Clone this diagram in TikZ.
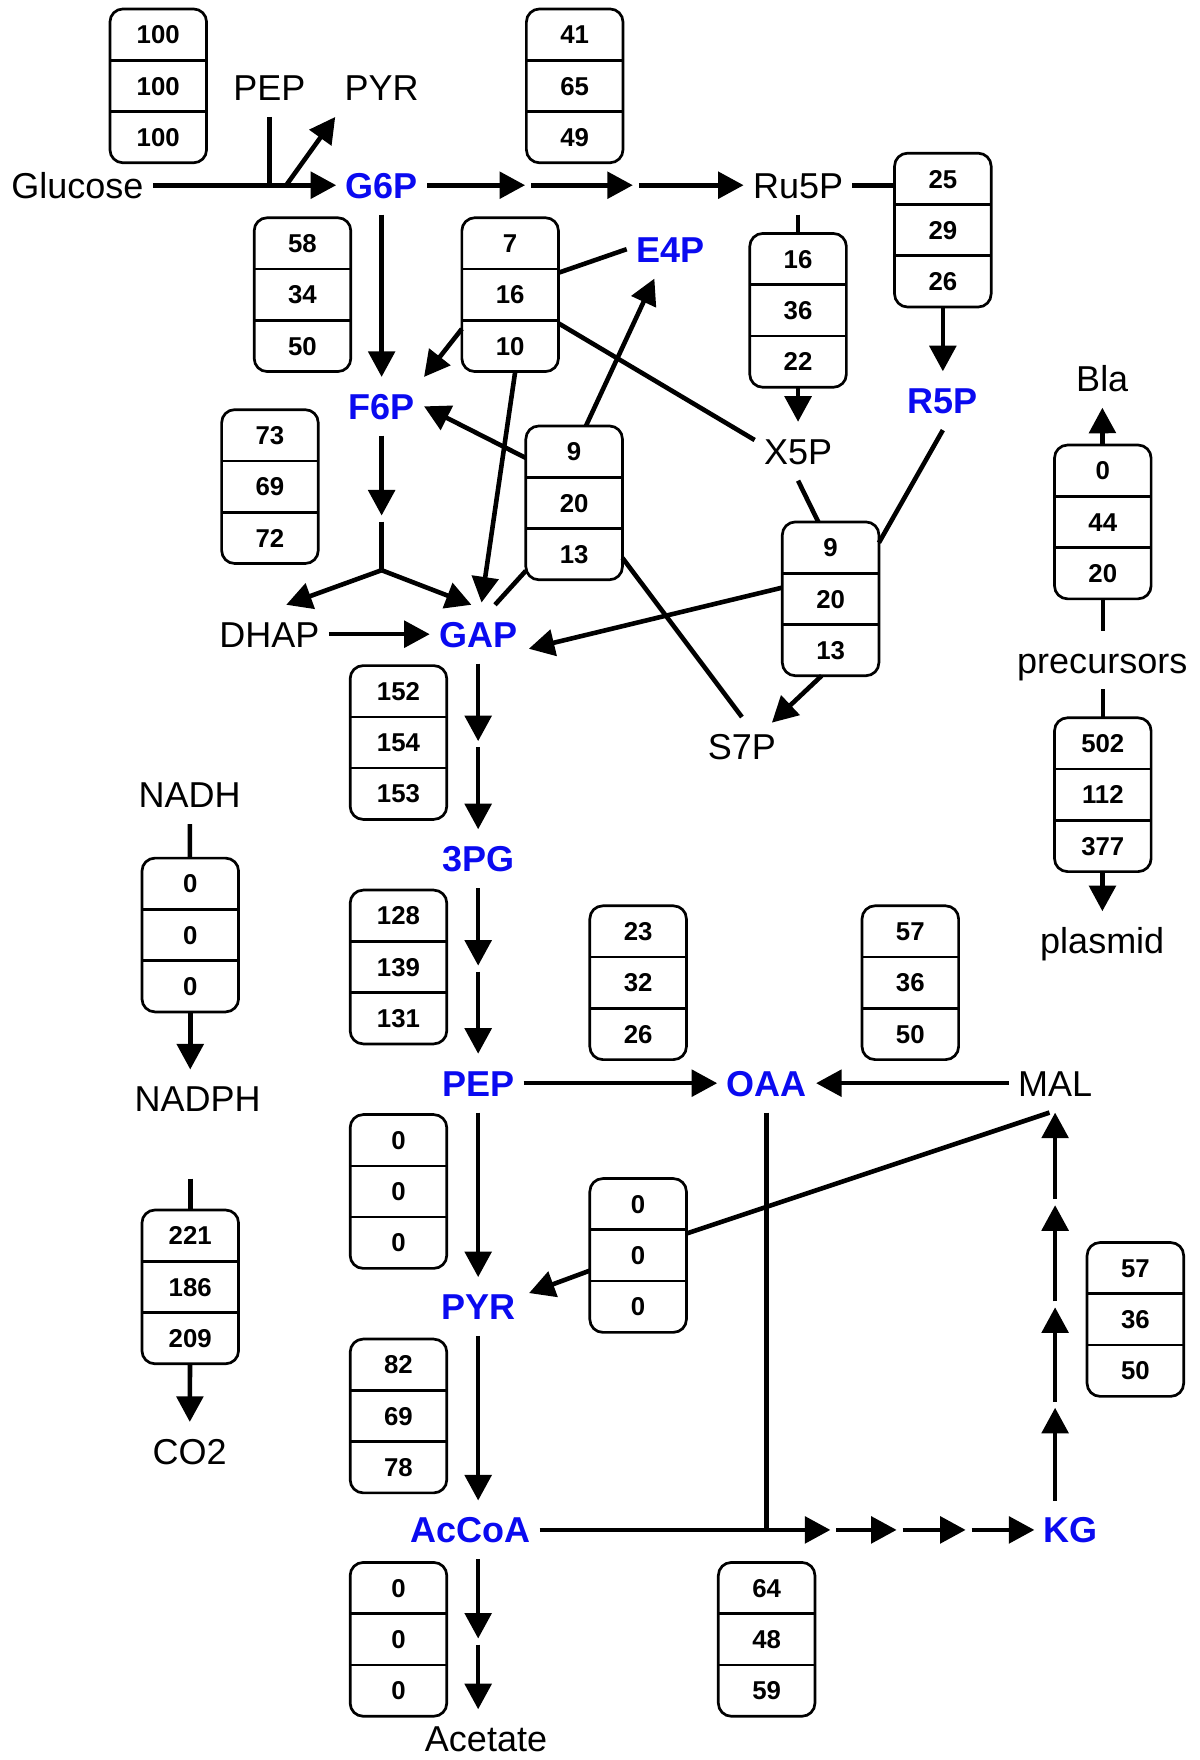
\documentclass[tikz,border=0pt]{standalone}
\usepackage{fontspec}
\setmainfont{Liberation Sans}
\usetikzlibrary{arrows.meta,calc}

\definecolor{metblue}{RGB}{10,10,240}

\tikzset{
  metab/.style={font=\fontsize{18}{20}\selectfont, text height=13pt, text depth=0pt,
                inner xsep=4.5pt, inner ysep=8pt},
  key/.style={metab, font=\fontsize{18}{20}\selectfont\bfseries, text=metblue},
  fbox/.style={draw, line width=1.35pt, rounded corners=6.5pt, minimum width=48.3pt,
               minimum height=76.9pt, inner sep=0pt, outer sep=0pt},
  fsep/.style={line width=1.35pt},
  fnum/.style={font=\fontsize{12.9}{14}\selectfont\bfseries, inner sep=0pt,
               text height=9.2pt, text depth=0pt},
  link/.style={line width=2.3pt},
  rxn/.style={line width=2.3pt, -{Triangle[length=12.8pt,width=13.2pt]}},
}

% flux box: name, position, three values
\newcommand{\fluxbox}[5]{%
  \node[fbox] (#1) at (#2) {};
  \draw[fsep] ($(#1.west)+(0,-22.83)$) -- ($(#1.east)+(0,-22.83)$);
  \draw[fsep] ($(#1.west)+(0,22.83)$) -- ($(#1.east)+(0,22.83)$);
  \node[fnum] at ($(#1.center)+(0,-45.67)$) {#3};
  \node[fnum] at (#1.center) {#4};
  \node[fnum] at ($(#1.center)+(0,45.67)$) {#5};
}

\begin{document}
\begin{tikzpicture}[x=0.5612pt, y=-0.5612pt]
\useasboundingbox (0,0) rectangle (1069,1568);

% metabolites
\node[metab] (Glucose) at (69,165) {Glucose};
\node[metab] (pepT) at (240,78) {PEP};
\node[metab] (pyrT) at (340,78) {PYR};
\node[key] (G6P) at (340,165) {G6P};
\node[metab] (Ru5P) at (711,165) {Ru5P};
\node[key] (E4P) at (597,222) {E4P};
\node[key] (F6P) at (340,362) {F6P};
\node[key] (R5P) at (840,357) {R5P};
\node[metab] (X5P) at (711,402) {X5P};
\node[metab] (Bla) at (982,337) {Bla};
\node[metab] (DHAP) at (240,565) {DHAP};
\node[key] (GAP) at (426,565) {GAP};
\node[metab] (S7P) at (661,665) {S7P};
\node[metab] (prec) at (982,588) {precursors};
\node[metab] (NADH) at (169,708) {NADH};
\node[key] (PG3) at (426,765) {3PG};
\node[metab] (plasmid) at (982,838) {plasmid};
\node[key] (PEP) at (426,965) {PEP};
\node[key] (OAA) at (683,965) {OAA};
\node[metab] (MAL) at (940,965) {MAL};
\node[metab] (NADPH) at (176,979) {NADPH};
\node[key] (PYR) at (426,1164) {PYR};
\node[metab] (CO2) at (169,1293) {CO2};
\node[key] (AcCoA) at (419,1363) {AcCoA};
\node[key] (KG) at (954,1363) {KG};
\node[metab] (Acetate) at (433,1549) {Acetate};

% fluxes
\fluxbox{vUpt}{141,76.5}{100}{100}{100}
\fluxbox{vZwf}{512,76.5}{41}{65}{49}
\fluxbox{vPgi}{269.5,262.5}{58}{34}{50}
\fluxbox{vTk1}{454.5,262.5}{7}{16}{10}
\fluxbox{vRpe}{711,276.5}{16}{36}{22}
\fluxbox{vRpi}{840,205}{25}{29}{26}
\fluxbox{vPfk}{240.5,433.5}{73}{69}{72}
\fluxbox{vTal}{511.5,448}{9}{20}{13}
\fluxbox{vTk2}{740,533.5}{9}{20}{13}
\fluxbox{vBla}{982.5,465}{0}{44}{20}
\fluxbox{vPlas}{982.5,708}{502}{112}{377}
\fluxbox{vGap}{355,661.5}{152}{154}{153}
\fluxbox{vTh}{169.5,833}{0}{0}{0}
\fluxbox{vEno}{355,861.5}{128}{139}{131}
\fluxbox{vPpc}{568.5,875.5}{23}{32}{26}
\fluxbox{vMdh}{811,875.5}{57}{36}{50}
\fluxbox{vPyk}{355,1061.5}{0}{0}{0}
\fluxbox{vMae}{568.5,1118.5}{0}{0}{0}
\fluxbox{vCo2}{169.5,1146.5}{221}{186}{209}
\fluxbox{vTca}{1011.5,1175.5}{57}{36}{50}
\fluxbox{vPdh}{355,1261.5}{82}{69}{78}
\fluxbox{vAck}{355,1460.5}{0}{0}{0}
\fluxbox{vGlt}{683,1460.5}{64}{48}{59}

% uptake
\draw[rxn] (Glucose) -- (G6P);
\draw[link] (pepT) -- (pepT |- Glucose);
\draw[rxn] ($(pepT |- Glucose)+(15,0)$) -- (pyrT.south west);

% pentose phosphate
\coordinate (o1) at (470.5,165);
\coordinate (o2) at (566.5,165);
\draw[rxn, shorten >=1.5pt] (G6P) -- (o1);
\draw[rxn, shorten <=1.5pt, shorten >=1.5pt] (o1) -- (o2);
\draw[rxn, shorten <=1.5pt] (o2) -- (Ru5P);
\draw[link] (Ru5P) -- (Ru5P -| vRpi.west);
\draw[rxn] (vRpi) -- (R5P);
\draw[link] (Ru5P) -- (vRpe);
\draw[rxn] (vRpe) -- (X5P);

\draw[rxn] (G6P) -- (F6P);

\draw[link] ($(vTk1.east)+(0,-19.5)$) -- (E4P.west);
\draw[rxn] ($(vTk1.west)+(0,30.5)$) -- (F6P.north east);
\draw[link] ($(vTk1.east)+(0,25.5)$) -- ($(X5P.west)+(0,-10)$);
\draw[rxn] ($(vTk1.south)+(4.5,0)$) -- ($(GAP.north)+(3,-2)$);

\draw[rxn] ($(vTal.north)+(10.5,0)$) -- ($(E4P.south)+(-14,0)$);
\draw[rxn] ($(vTal.west)+(0,-40)$) -- (F6P.east);
\draw[link] ($(vTal.south west)+(0,-8)$) -- ($(GAP.north)+(15,0)$);
\draw[link] ($(vTal.east)+(0,49)$) -- (S7P.north);

\draw[link] (X5P.south) -- ($(vTk2.north)+(-11,0)$);
\draw[link] (R5P.south) -- ($(vTk2.east)+(0,-50)$);
\draw[rxn] ($(vTk2.west)+(0,-10)$) -- ($(GAP.east)+(2,13)$);
\draw[rxn] ($(vTk2.south)+(-8,0)$) -- ($(S7P.north east)+(-12,5)$);

% glycolysis
\coordinate (fa) at (340,462);
\coordinate (fb) at (340,508);
\draw[rxn, shorten >=1.5pt] (F6P) -- (fa);
\draw[link, shorten <=1.5pt] (fa) -- (fb);
\draw[rxn] (fb) -- ($(DHAP.north)+(15,0)$);
\draw[rxn] (fb) -- ($(GAP.north)+(-6,0)$);
\draw[rxn] (DHAP) -- (GAP);

\coordinate (g1) at (426,663);
\coordinate (g2) at (426,863);
\draw[rxn, shorten >=1.5pt] (GAP) -- (g1);
\draw[rxn, shorten <=1.5pt] (g1) -- (PG3);
\draw[rxn, shorten >=1.5pt] (PG3) -- (g2);
\draw[rxn, shorten <=1.5pt] (g2) -- (PEP);
\draw[rxn] (PEP) -- (PYR);
\draw[rxn] (PYR.south) -- (PYR.south |- AcCoA.north);

\coordinate (a1) at (426,1462.5);
\draw[rxn, shorten >=1.5pt] (AcCoA.south -| a1) -- (a1);
\draw[rxn, shorten <=1.5pt] (a1) -- (a1 |- Acetate.north);

% anaplerotic
\draw[rxn] (PEP) -- (OAA);
\draw[rxn] (MAL) -- (OAA);
\draw[link] ($(MAL.south)+(-5,0)$) -- ($(vMae.east)+(0,-19.5)$);
\draw[rxn] ($(vMae.west)+(0,13.5)$) -- ($(PYR.east)+(4,-12)$);
\draw[link] (OAA) -- (OAA |- AcCoA);

% TCA
\coordinate (t1) at (742.5,1363);
\coordinate (t2) at (801.5,1363);
\coordinate (t3) at (863,1363);
\draw[rxn, shorten >=1.5pt] (AcCoA) -- (t1);
\foreach \a/\b in {t1/t2,t2/t3}
  \draw[rxn, shorten <=1.5pt, shorten >=1.5pt] (\a) -- (\b);
\draw[rxn, shorten <=1.5pt] (t3) -- (KG);

\coordinate (k1) at (940,1251.5);
\coordinate (k2) at (940,1162);
\coordinate (k3) at (940,1071);
\draw[rxn, shorten >=1.5pt] ($(KG.north)+(-14,0)$) -- (k1);
\foreach \a/\b in {k1/k2,k2/k3}
  \draw[rxn, shorten <=1.5pt, shorten >=1.5pt] (\a) -- (\b);
\draw[rxn, shorten <=1.5pt] (k3) -- (MAL.south);

% cofactors
\draw[link] (NADH) -- (vTh);
\draw[rxn] (vTh) -- (vTh.south |- NADPH.north);
\draw[link] ($(vCo2.north)+(0,-28)$) -- (vCo2);
\draw[rxn] (vCo2) -- (CO2);

% products
\draw[rxn] (vBla) -- (Bla);
\draw[link] (vBla) -- (vBla.south |- prec.north);
\draw[link] (prec.south -| vPlas.north) -- (vPlas);
\draw[rxn] (vPlas) -- (plasmid);

\end{tikzpicture}
\end{document}
